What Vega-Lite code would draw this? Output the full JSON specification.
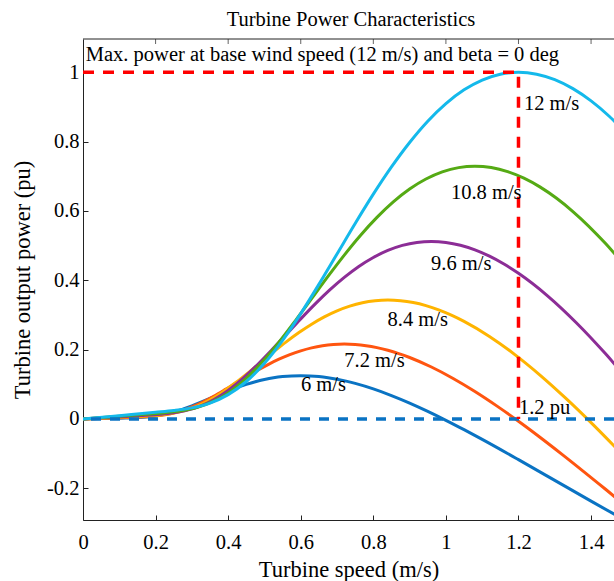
{
  "$schema": "https://vega.github.io/schema/vega-lite/v6.json",
  "autosize": {"type": "none"},
  "padding": {"left": 83, "top": 39, "right": 0, "bottom": 61},
  "width": 531,
  "height": 481,
  "background": "white",
  "title": {"text": "Turbine Power Characteristics", "font": "Liberation Serif", "fontSize": 20.5, "fontWeight": "normal", "color": "#000", "offset": 8, "dx": 2.5, "frame": "group"},
  "config": {
    "view": {"stroke": null},
    "axis": {"labelFont": "Liberation Serif", "titleFont": "Liberation Serif", "labelFontSize": 20.5, "titleFontSize": 22.5, "titleFontWeight": "normal", "labelColor": "#000", "titleColor": "#000", "domainColor": "#222", "tickColor": "#222", "tickSize": -5, "grid": false, "labelFlush": false, "labelOverlap": false, "labelBound": false}
  },
  "datasets": {
    "curves": [
      {"w":"6 m/s","s":0,"p":0},{"w":"6 m/s","s":0.05,"p":0.0012},{"w":"6 m/s","s":0.1,"p":0.0024},{"w":"6 m/s","s":0.125,"p":0.0031},{"w":"6 m/s","s":0.15,"p":0.004},{"w":"6 m/s","s":0.175,"p":0.0057},{"w":"6 m/s","s":0.2,"p":0.0088},{"w":"6 m/s","s":0.225,"p":0.0135},{"w":"6 m/s","s":0.25,"p":0.0201},{"w":"6 m/s","s":0.275,"p":0.0284},{"w":"6 m/s","s":0.3,"p":0.038},{"w":"6 m/s","s":0.325,"p":0.0485},{"w":"6 m/s","s":0.35,"p":0.0595},{"w":"6 m/s","s":0.375,"p":0.0705},{"w":"6 m/s","s":0.4,"p":0.0811},{"w":"6 m/s","s":0.425,"p":0.0909},{"w":"6 m/s","s":0.45,"p":0.0997},{"w":"6 m/s","s":0.475,"p":0.1074},{"w":"6 m/s","s":0.5,"p":0.1137},{"w":"6 m/s","s":0.525,"p":0.1187},{"w":"6 m/s","s":0.55,"p":0.1222},{"w":"6 m/s","s":0.575,"p":0.1243},{"w":"6 m/s","s":0.6,"p":0.125},{"w":"6 m/s","s":0.625,"p":0.1243},{"w":"6 m/s","s":0.65,"p":0.1224},{"w":"6 m/s","s":0.675,"p":0.1191},{"w":"6 m/s","s":0.7,"p":0.1147},{"w":"6 m/s","s":0.725,"p":0.1092},{"w":"6 m/s","s":0.75,"p":0.1026},{"w":"6 m/s","s":0.8,"p":0.0868},{"w":"6 m/s","s":0.85,"p":0.0676},{"w":"6 m/s","s":0.9,"p":0.0459},{"w":"6 m/s","s":0.95,"p":0.0219},{"w":"6 m/s","s":1.0,"p":-0.0038},{"w":"6 m/s","s":1.05,"p":-0.0309},{"w":"6 m/s","s":1.1,"p":-0.059},{"w":"6 m/s","s":1.2,"p":-0.1174},{"w":"6 m/s","s":1.3,"p":-0.1771},{"w":"6 m/s","s":1.4,"p":-0.237},{"w":"6 m/s","s":1.5,"p":-0.2961},
      {"w":"7.2 m/s","s":0,"p":0},{"w":"7.2 m/s","s":0.06,"p":0.0021},{"w":"7.2 m/s","s":0.12,"p":0.0041},{"w":"7.2 m/s","s":0.15,"p":0.0053},{"w":"7.2 m/s","s":0.18,"p":0.0069},{"w":"7.2 m/s","s":0.21,"p":0.0099},{"w":"7.2 m/s","s":0.24,"p":0.0152},{"w":"7.2 m/s","s":0.27,"p":0.0233},{"w":"7.2 m/s","s":0.3,"p":0.0347},{"w":"7.2 m/s","s":0.33,"p":0.049},{"w":"7.2 m/s","s":0.36,"p":0.0657},{"w":"7.2 m/s","s":0.39,"p":0.0839},{"w":"7.2 m/s","s":0.42,"p":0.1028},{"w":"7.2 m/s","s":0.45,"p":0.1218},{"w":"7.2 m/s","s":0.48,"p":0.1401},{"w":"7.2 m/s","s":0.51,"p":0.157},{"w":"7.2 m/s","s":0.54,"p":0.1723},{"w":"7.2 m/s","s":0.57,"p":0.1855},{"w":"7.2 m/s","s":0.6,"p":0.1965},{"w":"7.2 m/s","s":0.63,"p":0.2051},{"w":"7.2 m/s","s":0.66,"p":0.2112},{"w":"7.2 m/s","s":0.69,"p":0.2148},{"w":"7.2 m/s","s":0.72,"p":0.216},{"w":"7.2 m/s","s":0.75,"p":0.2148},{"w":"7.2 m/s","s":0.78,"p":0.2114},{"w":"7.2 m/s","s":0.81,"p":0.2058},{"w":"7.2 m/s","s":0.84,"p":0.1982},{"w":"7.2 m/s","s":0.87,"p":0.1886},{"w":"7.2 m/s","s":0.9,"p":0.1773},{"w":"7.2 m/s","s":0.96,"p":0.1499},{"w":"7.2 m/s","s":1.02,"p":0.1169},{"w":"7.2 m/s","s":1.08,"p":0.0793},{"w":"7.2 m/s","s":1.14,"p":0.0378},{"w":"7.2 m/s","s":1.2,"p":-0.0066},{"w":"7.2 m/s","s":1.26,"p":-0.0534},{"w":"7.2 m/s","s":1.32,"p":-0.102},{"w":"7.2 m/s","s":1.44,"p":-0.2028},{"w":"7.2 m/s","s":1.56,"p":-0.306},
      {"w":"8.4 m/s","s":0,"p":0},{"w":"8.4 m/s","s":0.07,"p":0.0033},{"w":"8.4 m/s","s":0.14,"p":0.0066},{"w":"8.4 m/s","s":0.175,"p":0.0084},{"w":"8.4 m/s","s":0.21,"p":0.011},{"w":"8.4 m/s","s":0.245,"p":0.0157},{"w":"8.4 m/s","s":0.28,"p":0.0241},{"w":"8.4 m/s","s":0.315,"p":0.0371},{"w":"8.4 m/s","s":0.35,"p":0.0552},{"w":"8.4 m/s","s":0.385,"p":0.0779},{"w":"8.4 m/s","s":0.42,"p":0.1043},{"w":"8.4 m/s","s":0.455,"p":0.1332},{"w":"8.4 m/s","s":0.49,"p":0.1633},{"w":"8.4 m/s","s":0.525,"p":0.1934},{"w":"8.4 m/s","s":0.56,"p":0.2224},{"w":"8.4 m/s","s":0.595,"p":0.2493},{"w":"8.4 m/s","s":0.63,"p":0.2735},{"w":"8.4 m/s","s":0.665,"p":0.2946},{"w":"8.4 m/s","s":0.7,"p":0.312},{"w":"8.4 m/s","s":0.735,"p":0.3256},{"w":"8.4 m/s","s":0.77,"p":0.3354},{"w":"8.4 m/s","s":0.805,"p":0.3411},{"w":"8.4 m/s","s":0.84,"p":0.343},{"w":"8.4 m/s","s":0.875,"p":0.3411},{"w":"8.4 m/s","s":0.91,"p":0.3357},{"w":"8.4 m/s","s":0.945,"p":0.3268},{"w":"8.4 m/s","s":0.98,"p":0.3147},{"w":"8.4 m/s","s":1.015,"p":0.2995},{"w":"8.4 m/s","s":1.05,"p":0.2815},{"w":"8.4 m/s","s":1.12,"p":0.238},{"w":"8.4 m/s","s":1.19,"p":0.1856},{"w":"8.4 m/s","s":1.26,"p":0.1259},{"w":"8.4 m/s","s":1.33,"p":0.06},{"w":"8.4 m/s","s":1.4,"p":-0.0105},{"w":"8.4 m/s","s":1.47,"p":-0.0848},
      {"w":"9.6 m/s","s":0,"p":0},{"w":"9.6 m/s","s":0.08,"p":0.0049},{"w":"9.6 m/s","s":0.16,"p":0.0098},{"w":"9.6 m/s","s":0.2,"p":0.0125},{"w":"9.6 m/s","s":0.24,"p":0.0164},{"w":"9.6 m/s","s":0.28,"p":0.0235},{"w":"9.6 m/s","s":0.32,"p":0.0359},{"w":"9.6 m/s","s":0.36,"p":0.0553},{"w":"9.6 m/s","s":0.4,"p":0.0823},{"w":"9.6 m/s","s":0.44,"p":0.1162},{"w":"9.6 m/s","s":0.48,"p":0.1556},{"w":"9.6 m/s","s":0.52,"p":0.1988},{"w":"9.6 m/s","s":0.56,"p":0.2437},{"w":"9.6 m/s","s":0.6,"p":0.2887},{"w":"9.6 m/s","s":0.64,"p":0.332},{"w":"9.6 m/s","s":0.68,"p":0.3722},{"w":"9.6 m/s","s":0.72,"p":0.4083},{"w":"9.6 m/s","s":0.76,"p":0.4398},{"w":"9.6 m/s","s":0.8,"p":0.4658},{"w":"9.6 m/s","s":0.84,"p":0.4861},{"w":"9.6 m/s","s":0.88,"p":0.5006},{"w":"9.6 m/s","s":0.92,"p":0.5092},{"w":"9.6 m/s","s":0.96,"p":0.512},{"w":"9.6 m/s","s":1.0,"p":0.5092},{"w":"9.6 m/s","s":1.04,"p":0.5011},{"w":"9.6 m/s","s":1.08,"p":0.4878},{"w":"9.6 m/s","s":1.12,"p":0.4697},{"w":"9.6 m/s","s":1.16,"p":0.4471},{"w":"9.6 m/s","s":1.2,"p":0.4202},{"w":"9.6 m/s","s":1.28,"p":0.3553},{"w":"9.6 m/s","s":1.36,"p":0.277},{"w":"9.6 m/s","s":1.44,"p":0.1879},{"w":"9.6 m/s","s":1.52,"p":0.0896},
      {"w":"10.8 m/s","s":0,"p":0},{"w":"10.8 m/s","s":0.09,"p":0.007},{"w":"10.8 m/s","s":0.18,"p":0.014},{"w":"10.8 m/s","s":0.225,"p":0.0178},{"w":"10.8 m/s","s":0.27,"p":0.0234},{"w":"10.8 m/s","s":0.315,"p":0.0335},{"w":"10.8 m/s","s":0.36,"p":0.0512},{"w":"10.8 m/s","s":0.405,"p":0.0788},{"w":"10.8 m/s","s":0.45,"p":0.1172},{"w":"10.8 m/s","s":0.495,"p":0.1655},{"w":"10.8 m/s","s":0.54,"p":0.2216},{"w":"10.8 m/s","s":0.585,"p":0.2831},{"w":"10.8 m/s","s":0.63,"p":0.347},{"w":"10.8 m/s","s":0.675,"p":0.4111},{"w":"10.8 m/s","s":0.72,"p":0.4727},{"w":"10.8 m/s","s":0.765,"p":0.5299},{"w":"10.8 m/s","s":0.81,"p":0.5814},{"w":"10.8 m/s","s":0.855,"p":0.6261},{"w":"10.8 m/s","s":0.9,"p":0.6632},{"w":"10.8 m/s","s":0.945,"p":0.6921},{"w":"10.8 m/s","s":0.99,"p":0.7127},{"w":"10.8 m/s","s":1.035,"p":0.725},{"w":"10.8 m/s","s":1.08,"p":0.729},{"w":"10.8 m/s","s":1.125,"p":0.7251},{"w":"10.8 m/s","s":1.17,"p":0.7135},{"w":"10.8 m/s","s":1.215,"p":0.6946},{"w":"10.8 m/s","s":1.26,"p":0.6688},{"w":"10.8 m/s","s":1.305,"p":0.6366},{"w":"10.8 m/s","s":1.35,"p":0.5984},{"w":"10.8 m/s","s":1.44,"p":0.5059},{"w":"10.8 m/s","s":1.53,"p":0.3944},
      {"w":"12 m/s","s":0,"p":0},{"w":"12 m/s","s":0.1,"p":0.0096},{"w":"12 m/s","s":0.2,"p":0.0192},{"w":"12 m/s","s":0.25,"p":0.0244},{"w":"12 m/s","s":0.3,"p":0.0321},{"w":"12 m/s","s":0.35,"p":0.0459},{"w":"12 m/s","s":0.4,"p":0.0702},{"w":"12 m/s","s":0.45,"p":0.1081},{"w":"12 m/s","s":0.5,"p":0.1608},{"w":"12 m/s","s":0.55,"p":0.227},{"w":"12 m/s","s":0.6,"p":0.304},{"w":"12 m/s","s":0.65,"p":0.3883},{"w":"12 m/s","s":0.7,"p":0.476},{"w":"12 m/s","s":0.75,"p":0.5639},{"w":"12 m/s","s":0.8,"p":0.6484},{"w":"12 m/s","s":0.85,"p":0.7269},{"w":"12 m/s","s":0.9,"p":0.7975},{"w":"12 m/s","s":0.95,"p":0.8589},{"w":"12 m/s","s":1.0,"p":0.9097},{"w":"12 m/s","s":1.05,"p":0.9494},{"w":"12 m/s","s":1.1,"p":0.9777},{"w":"12 m/s","s":1.15,"p":0.9945},{"w":"12 m/s","s":1.2,"p":1.0},{"w":"12 m/s","s":1.25,"p":0.9946},{"w":"12 m/s","s":1.3,"p":0.9788},{"w":"12 m/s","s":1.35,"p":0.9528},{"w":"12 m/s","s":1.4,"p":0.9174},{"w":"12 m/s","s":1.45,"p":0.8732},{"w":"12 m/s","s":1.5,"p":0.8208}
    ],
    "maxline": [{"s":0,"p":1,"o":1},{"s":1.2,"p":1,"o":2},{"s":1.2,"p":0,"o":3}],
    "zero": [{"p":0}],
    "topframe": [{"p":1.096}],
    "topticks": [{"s":0.2},{"s":0.4},{"s":0.6},{"s":0.8},{"s":1},{"s":1.2},{"s":1.4}],
    "labels": [
      {"t":"Max. power at base wind speed (12 m/s) and beta = 0 deg","s":0.0077,"p":1.0335},
      {"t":"12 m/s","s":1.215,"p":0.8925},
      {"t":"10.8 m/s","s":1.014,"p":0.6337},
      {"t":"9.6 m/s","s":0.959,"p":0.4298},
      {"t":"8.4 m/s","s":0.8394,"p":0.269},
      {"t":"7.2 m/s","s":0.72,"p":0.1509},
      {"t":"6 m/s","s":0.6007,"p":0.0817},
      {"t":"1.2 pu","s":1.2014,"p":0.0144}
    ]
  },
  "layer": [
    {
      "data": {"name": "curves"},
      "mark": {"type": "line", "strokeWidth": 3, "clip": true, "interpolate": "monotone"},
      "encoding": {
        "x": {"field": "s", "type": "quantitative", "scale": {"domain": [0, 1.4632], "nice": false, "zero": false},
              "axis": {"orient": "bottom", "title": "Turbine speed (m/s)", "values": [0,0.2,0.4,0.6,0.8,1,1.2,1.4], "format": "~g", "labelPadding": 17, "titleBaseline": "alphabetic", "titleY": 56}},
        "y": {"field": "p", "type": "quantitative", "scale": {"domain": [-0.2914, 1.096], "nice": false, "zero": false},
              "axis": {"orient": "left", "title": "Turbine output power (pu)", "values": [-0.2,0,0.2,0.4,0.6,0.8,1], "labelExpr": "datum.value < 0 ? '-' + format(-datum.value, '~g') : format(datum.value, '~g')", "labelPadding": 9, "titleBaseline": "alphabetic", "titleX": -54}},
        "color": {"field": "w", "type": "nominal", "legend": null,
                  "scale": {"domain": ["6 m/s","7.2 m/s","8.4 m/s","9.6 m/s","10.8 m/s","12 m/s"], "range": ["#0A73C3","#FF5510","#FFB400","#8C2D96","#55AA14","#14B9EB"]}}
      }
    },
    {
      "data": {"name": "zero"},
      "mark": {"type": "rule", "color": "#0A73C3", "strokeWidth": 3.5, "strokeDash": [10, 9]},
      "encoding": {"y": {"field": "p", "type": "quantitative"}}
    },
    {
      "data": {"name": "maxline"},
      "mark": {"type": "line", "color": "#FF0000", "strokeWidth": 3.5, "strokeDash": [11, 9], "clip": true},
      "encoding": {
        "x": {"field": "s", "type": "quantitative"},
        "y": {"field": "p", "type": "quantitative"},
        "order": {"field": "o"}
      }
    },
    {
      "data": {"name": "topframe"},
      "mark": {"type": "rule", "color": "#222", "strokeWidth": 1},
      "encoding": {"y": {"field": "p", "type": "quantitative"}}
    },
    {
      "data": {"name": "topticks"},
      "mark": {"type": "tick", "orient": "vertical", "color": "#222", "size": 10, "thickness": 1, "clip": true},
      "encoding": {
        "x": {"field": "s", "type": "quantitative"},
        "y": {"datum": 1.096}
      }
    },
    {
      "data": {"name": "labels"},
      "mark": {"type": "text", "align": "left", "baseline": "alphabetic", "font": "Liberation Serif", "fontSize": 20.5, "color": "#000"},
      "encoding": {
        "x": {"field": "s", "type": "quantitative"},
        "y": {"field": "p", "type": "quantitative"},
        "text": {"field": "t"}
      }
    }
  ]
}
